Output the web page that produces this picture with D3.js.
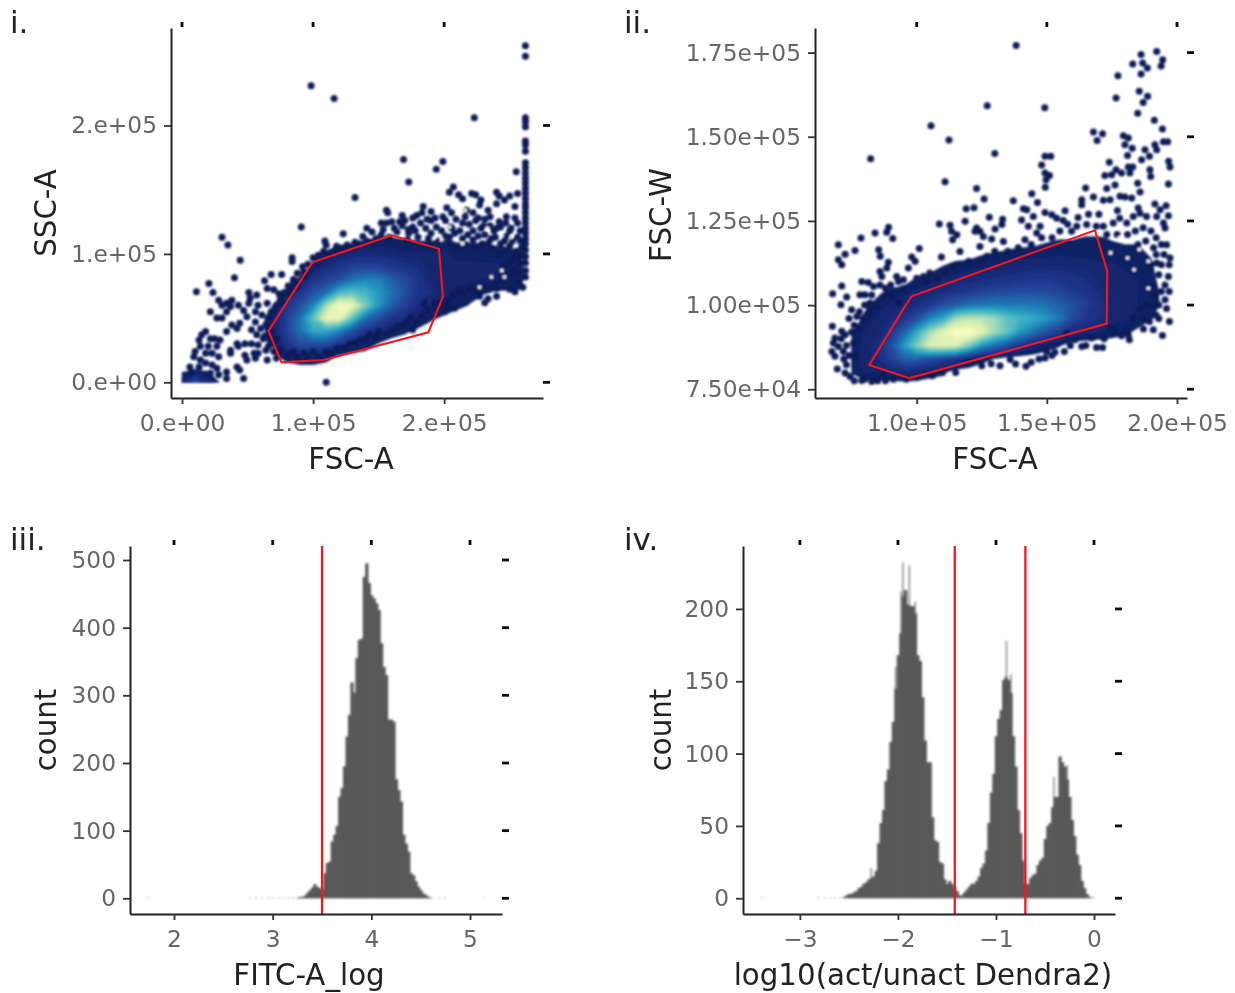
<!DOCTYPE html>
<html lang="en">

<head>
    <meta charset="UTF-8">
    <title>Flow cytometry gating panels</title>
    <script src="https://d3js.org/d3.v7.min.js"></script>
    <style>
        html, body {
            margin: 0;
            background: #fff;
        }

        svg {
            display: block;
        }

        text {
            font-family: "DejaVu Sans", sans-serif;
        }

        .tick text {
            font-size: 23.3px;
            fill: #666;
        }

        .axis-title {
            font-size: 29.3px;
            fill: #222;
        }

        .panel-label {
            font-size: 31px;
            fill: #222;
        }
    </style>
</head>

<body>
    <svg width="1235" height="993"></svg>

    <script>
        // panel i, values in thousands
        const scatter1 = [
            [262, 262], [262, 254], [262, 206], [262, 203], [262, 199], [262, 188], [262, 185], [262, 180], [262, 171], [262, 167],
            [262, 163], [262, 159], [262, 155], [262, 151], [262, 147], [262, 143], [262, 139], [262, 136], [262, 132], [262, 128],
            [262, 124], [262, 120], [262, 116], [262, 112], [262, 108], [262, 103], [262, 98], [262, 93], [262, 87], [262, 82],
            [98.5, 231], [116, 221], [223, 206], [169, 173.5], [199, 172], [194, 166], [255, 164], [173, 156], [132, 144], [91, 121],
            [30.5, 113], [35, 107], [44.4, 95], [40, 81.5], [20.5, 77], [11, 70.6], [23.6, 70], [110, 0], [47, 3], [123, 115.6],
            [141, 120], [109, 110], [110, 107], [108, 102], [117, 103], [84, 97], [84, 94], [68, 84], [76, 84], [63, 79],
            [85, 80], [93, 86], [204, 148], [207, 152], [211, 146], [214, 143], [221, 147], [224, 146], [228, 142], [227, 138],
            [240, 148], [242, 145], [246, 142], [250, 145], [256, 147], [240, 139], [254, 137], [184, 137], [190, 133], [202, 136],
            [156, 134], [157, 132], [168, 130], [179, 130], [183, 132], [190, 126], [199, 129], [205.6, 132], [217, 134], [222, 132],
            [233.5, 134], [226, 128], [247.5, 129], [242, 125], [235, 129], [256, 124], [152, 124], [156, 124], [176, 121], [172.6, 119],
            [164, 117], [153.5, 119], [145, 117], [138, 113.5], [132, 109], [126, 107], [202, 59], [208, 57.7], [227, 67], [231, 62],
            [233.5, 65], [240, 67], [250, 72.5], [254, 70.6], [260, 74], [240, 73], [227, 69], [214, 69], [193, 61.5], [194, 57.7],
            [200.5, 55], [176, 41], [179, 47], [171, 47], [164, 43], [156, 38], [150, 39.5], [143, 37], [136, 33], [128, 30],
            [118, 26.5], [110, 24], [100, 24], [93, 22.6], [85, 24], [80, 20], [18, 39.5], [15, 37], [13, 33], [10, 24],
            [9, 20], [6, 12], [7.6, 8], [21.6, 34], [25, 34], [29, 33], [20, 28], [23, 22.6], [18, 22.6], [26.6, 28],
            [28, 20], [14, 28], [14, 17.4], [18, 15], [23, 13.5], [26.6, 11], [28, 6], [34, 8], [34, 3], [13, 12],
            [21.6, 7], [21.6, 55], [28, 64], [30.5, 60], [34, 61.5], [38, 64], [26.6, 50], [30.5, 50], [34, 55], [37, 59],
            [43, 60], [47, 56], [51, 70], [52, 65.5], [57, 68], [65, 73], [70, 72], [74, 69], [51, 61.5], [56, 55],
            [58, 60], [49.5, 51], [42, 42], [38, 44.7], [34, 39.5], [44, 46], [56, 47], [61, 52.5], [65, 61.5], [70, 56],
            [77, 61.5], [82.5, 69], [87.5, 74.5], [93, 82], [48, 30], [42, 30], [37, 25], [37, 22.6], [43, 28], [53, 30],
            [58, 29], [55, 22.6], [48, 21], [42, 12], [44, 9.6], [49.5, 17.4], [56, 18.7], [65, 17.4], [64, 25], [58, 22.6],
            [70, 24], [72, 18.7], [67, 33], [62, 34], [258, 118], [258, 110], [255, 102], [258, 92], [254, 84], [257, 78],
            [250, 118], [246, 110], [252, 96], [245, 90], [240, 120], [236, 112], [230, 122], [222, 118], [214, 124], [206, 120],
            [201, 126], [205, 121], [209, 127], [212, 118], [216, 129], [219, 123], [224, 126], [228, 120], [231, 127], [235, 122],
            [238, 118], [243, 121], [247, 124], [251, 120], [254, 128], [204, 113], [208, 116], [214, 112], [218, 115], [222, 111],
            [226, 114], [231, 115], [234, 109], [239, 113], [243, 108], [248, 114], [252, 110], [256, 113], [259, 105], [205, 108],
            [211, 106], [217, 107], [224, 105], [229, 108], [237, 104], [242, 100], [246, 103], [250, 106], [255, 98], [258, 100],
            [249, 92], [253, 88], [257, 85], [247, 83], [244, 79], [238, 77], [233, 72], [229, 74], [224, 72], [219, 73],
            [212, 71], [207, 68], [203, 64], [198, 62], [187, 57], [183, 52], [185, 62], [148, 112], [152, 115], [158, 113],
            [162, 120], [168, 122], [173, 116], [178, 118], [182, 124], [186, 120], [190, 116], [194, 121], [198, 118], [201, 114],
            [170, 126], [176, 128], [166, 125], [160, 125], [187, 127], [193, 128], [180, 113], [188, 112], [196, 110], [172, 111],
            [100, 97], [104, 99], [112, 100], [118, 106], [122, 103], [128, 105], [135, 108], [141, 110], [96, 92], [92, 90],
            [88, 85], [85, 78], [81, 75], [78, 70], [75, 65], [72, 60], [68, 55], [66, 50], [64, 45], [82, 22],
            [88, 20], [96, 20], [104, 20], [114, 23], [124, 27], [132, 31], [140, 34], [148, 36], [160, 40], [168, 44],
            [174, 50], [70, 30], [75, 25], [72, 34], [68, 40], [66, 28], [63, 36], [60, 42], [57, 37], [53, 41]
        ];
        const gaps1 = [[216, 134], [204, 121], [214, 108], [251, 113], [244, 87], [236, 82], [246, 82], [227, 74], [233, 120], [198, 111]];
        const gate1 = [[66, 40], [76, 15.6], [108, 17.4], [188, 39], [198, 64], [199, 67], [196, 104], [160, 114.5], [99.5, 93.5], [91, 80]];
        // density, rows y = 0, 10, ... columns x = 0, 10, ... 260
        const densityX1 = d3.range(0, 261, 10);
        const densityY1 = d3.range(0, 131, 10);
        const density1 = [
            [1, 3, 1.4, .3, 0, 0, 0, 0, 0, 0, 0, 0, 0, 0, 0, 0, 0, 0, 0, 0, 0, 0, 0, 0, 0, 0, 0],
            [.3, .45, .3, 0, 0, 0, 0, 0, 0, 0, 0, 0, 0, 0, 0, 0, 0, 0, 0, 0, 0, 0, 0, 0, 0, 0, 0],
            [0, 0, 0, 0, 0, 0, 0, .3, .8, 1.2, 1.2, .8, .3, 0, 0, 0, 0, 0, 0, 0, 0, 0, 0, 0, 0, 0, 0],
            [0, 0, 0, 0, 0, 0, 0, .5, 2, 3, 3, 3, 2, 1.5, 1, .4, 0, 0, 0, 0, 0, 0, 0, 0, 0, 0, 0],
            [0, 0, 0, 0, 0, 0, .2, 1, 2.5, 4, 5.5, 5.5, 4.5, 3, 2, 1.5, 1, .6, .3, 0, 0, 0, 0, 0, 0, 0, 0],
            [0, 0, 0, 0, 0, 0, .2, 1, 2.5, 4, 6.5, 9, 9, 6.5, 4, 3, 2, 1.5, 1, .6, .3, 0, 0, 0, 0, 0, 0],
            [0, 0, 0, 0, 0, 0, 0, .5, 2, 3, 4.5, 7.5, 9.5, 9, 7, 5, 3.5, 2.5, 1.5, 1, 1, .7, .4, .2, 0, 0, 0],
            [0, 0, 0, 0, 0, 0, 0, 0, .6, 2, 3, 4, 6, 6.5, 6, 5, 4, 3, 2, 1.5, 1, .8, .7, .5, .4, .4, .4],
            [0, 0, 0, 0, 0, 0, 0, 0, .2, .6, 2, 2.5, 3, 4, 4.5, 4.5, 3.5, 2.8, 2, 1.2, 1, 1, 1, .9, .8, .7, .6],
            [0, 0, 0, 0, 0, 0, 0, 0, 0, 0, .6, 1.5, 2, 2.5, 2.5, 2.5, 2.2, 1.8, 1.5, 1, 1, 1, 1, 1, 1, .8, .6],
            [0, 0, 0, 0, 0, 0, 0, 0, 0, 0, .2, .6, 1, 1.2, 1.4, 1.4, 1.2, 1, 1, 1, 1, .8, .8, .7, .7, .6, .4],
            [0, 0, 0, 0, 0, 0, 0, 0, 0, 0, 0, 0, .2, .3, .5, .6, .6, .5, .45, .45, .5, .4, .4, .4, .3, .3, .3],
            [0, 0, 0, 0, 0, 0, 0, 0, 0, 0, 0, 0, 0, 0, 0, 0, .1, .1, .2, .2, .2, .2, .2, .2, .2, .2, .2],
            [0, 0, 0, 0, 0, 0, 0, 0, 0, 0, 0, 0, 0, 0, 0, 0, 0, 0, 0, 0, 0, 0, 0, 0, 0, 0, 0]
        ];

        // panel ii, values in thousands
        const scatter2 = [
            [138.2, 177.1], [192.2, 175.3], [186.2, 174.4], [194.5, 172.9], [193.9, 171], [183, 171.6], [186.8, 171.9], [188.6, 170.4], [186.2, 168.6], [177.3, 168.1],
            [185.5, 163.5], [188.7, 162], [187, 160.2], [176.6, 161.5], [127.1, 159.2], [149.2, 158.6], [184.9, 157], [191.3, 154.9], [194.4, 152.3], [105.5, 153.3],
            [112.4, 149], [167.9, 151.4], [171.4, 150.9], [169.3, 148.9], [179.4, 150.3], [181.3, 149.6], [180, 147.6], [182.8, 146.6], [187.7, 146.1], [191.5, 147.6],
            [194.8, 148.5], [196.4, 148.5], [192.2, 146.1], [181, 144.4], [186.4, 143.2], [189.4, 144.2], [130, 145], [82.3, 143.5], [149.3, 144.2], [151.5, 144.2],
            [148, 141.6], [174, 142.4], [196.8, 142.7], [197.3, 141], [181.3, 141], [183, 141], [181.9, 139.2], [176.6, 140.2], [178.7, 139.2], [172.3, 138.5],
            [174.9, 138.7], [189.6, 140.2], [189.9, 138.2], [149.3, 139.2], [151, 138.5], [149.7, 137.2], [149.4, 135], [110.9, 136.6], [176.2, 135.7], [173, 134.6],
            [184.9, 136.2], [196.7, 136], [185.8, 133.6], [123, 134.6], [144.2, 133.1], [164.9, 134.8], [125.9, 131.5], [137.1, 131], [146.4, 130.5], [167.9, 132.1],
            [163.4, 131.3], [163.4, 129.8], [171.7, 131.1], [174.3, 131.3], [178.1, 132.3], [180, 132.1], [182.6, 131.8], [119, 128.6], [122, 128.9], [141, 128.6],
            [142.3, 128.3], [157, 128], [149.3, 127.5], [151.9, 126.8], [177.1, 128.1], [185.1, 128.8], [191.5, 130], [195.8, 129.5], [196.7, 126.5], [127.9, 126.1],
            [140.3, 125.3], [144.8, 126.3], [153.8, 125.8], [156.3, 125.1], [133, 125.5], [118.6, 124.9], [108.7, 124.1], [112.8, 123.7], [89.2, 123.1], [84, 121.4],
            [88.5, 121.6], [78.6, 119.9], [90.8, 119.8], [113.4, 121.9], [115.4, 120.9], [113.8, 119.4], [123, 122.9], [124.3, 121.9], [122.4, 121.9], [130.1, 122.6],
            [132.7, 123.9], [125.6, 120.4], [128.8, 119.6], [133.3, 118.9], [141.6, 119.4], [146.1, 121.4], [147.4, 123.4], [142.9, 123.4], [69.9, 117.9], [76.3, 116.2],
            [72.5, 115.1], [85.4, 116.4], [86, 114.5], [101, 116.8], [98.1, 114.3], [99.4, 113], [96.8, 111], [89.1, 112.7], [88.5, 111], [85.9, 110],
            [69.9, 113.5], [71.2, 112], [109.5, 114.3], [116.6, 115.9], [124.3, 117.4], [127, 114.5], [113.4, 111.5], [105, 109.5], [102.6, 108.5], [92.3, 108.5],
            [94.9, 107.5], [86.6, 108.5], [78.9, 107], [81.4, 106.7], [71.2, 105.7], [67.7, 103.4], [78.2, 103.1], [80.1, 103.1], [73.1, 102.4], [70.9, 100.1],
            [75, 98.6], [67.6, 93.7], [83.4, 105.5], [85.9, 106], [82.7, 103], [87.2, 102.6], [90.4, 103.1], [93, 100.6], [82.1, 100.6], [84.6, 99.6],
            [77, 96.6], [79.5, 96.1], [82, 97.6], [71.2, 92.2], [68.6, 90.2], [72.5, 91.2], [68, 88.7], [67.4, 86.2], [69.9, 87.7], [68.6, 84.8],
            [71.8, 86.2], [69.5, 81], [73, 82.3], [74.4, 78.8], [72.5, 79.8], [78.9, 77.6], [82.7, 77.3], [91, 78], [87.2, 79.3], [76.3, 84.8],
            [75.7, 88.7], [77.6, 92.7], [103.5, 79.3], [128.6, 82.6], [142, 81.8], [135.9, 83.8], [149.3, 84.3], [153.1, 86], [156.7, 86.2], [149.9, 86.2],
            [169.1, 87.4], [171.4, 87.4], [163.4, 87.7], [160.8, 89.7], [167.2, 90.2], [157.6, 91.7], [174.3, 93.2], [180, 92.2], [181.7, 89.7], [181.3, 91.2],
            [178.7, 90.9], [187.1, 92.9], [190.9, 92.7], [194.4, 91], [197.1, 95.1], [189.4, 95.1], [183.2, 96.1], [185.8, 98.6], [190.9, 99.6], [195.4, 101.6],
            [195.4, 106], [197.3, 114], [196, 117.9], [195.4, 122.9], [193.5, 128.3], [196.7, 108.5], [192.2, 112.5], [175.5, 124.4], [180.7, 124.4], [185.8, 127.3],
            [188.3, 126.3], [192.2, 126.3], [183.2, 126.3], [171.7, 123.4], [169, 123.4], [165.3, 123.9], [161.5, 123.4], [159.5, 121.9], [178, 125.8], [194.8, 124.4],
            [192, 120], [190, 122], [187, 123], [184, 122], [181, 121], [177, 121], [173, 121], [194, 118], [191, 117], [188, 119],
            [185, 118], [195, 115], [192, 115], [194, 112], [197, 112], [190, 112], [193, 109], [191, 106], [194, 104], [197, 104],
            [191, 103], [193, 100], [196, 99], [192, 97], [187, 96], [193, 96], [188, 100], [176, 92], [172, 90], [165, 88],
            [159, 88], [152, 85], [147, 84], [144, 83], [138, 82.5], [132, 82], [125, 82], [120, 83], [115, 80], [110, 80],
            [106, 79], [100, 78.5], [96, 78], [88, 77.5], [85, 77.5], [80, 78], [76, 77.5], [95, 105], [93, 107], [90, 106],
            [88, 105], [82, 99], [80, 100], [78, 98], [76, 94], [75, 92], [74, 96], [73, 88], [74, 85], [72, 84],
            [71, 90], [100, 108], [104, 107], [108, 108], [111, 110], [115, 112], [120, 113], [125, 113], [130, 116], [135, 116],
            [139, 117], [144, 118], [148, 120], [152, 120], [155, 122], [158, 124], [162, 126], [166, 127], [170, 127]
        ];
        const gaps2 = [[185.5, 116.5], [189, 113], [181, 114], [178, 120], [174.5, 115.5], [183.5, 110.5], [189, 105]];
        const gate2 = [[81.8, 82.2], [97.2, 78.3], [173, 94.5], [173.2, 110], [168.5, 122.2], [98, 102.6], [95.5, 99.6]];
        // rows y = 76, 80, ... columns x = 75, 80, ... 200
        const densityX2 = d3.range(75, 201, 5);
        const densityY2 = d3.range(76, 125, 4);
        const density2 = [
            [0, 0, 0, 0, 0, 0, 0, 0, 0, 0, 0, 0, 0, 0, 0, 0, 0, 0, 0, 0, 0, 0, 0, 0, 0, 0],
            [.5, 1, 1, 1.2, 1.3, 1.2, .8, .6, 0, 0, 0, 0, 0, 0, 0, 0, 0, 0, 0, 0, 0, 0, 0, 0, 0, 0],
            [.8, 1, 1.5, 2.5, 3.5, 3.5, 3, 2.5, 2, 1.3, .7, .4, 0, 0, 0, 0, 0, 0, 0, 0, 0, 0, 0, 0, 0, 0],
            [.7, 1, 1.5, 3, 5, 7, 8.5, 8.8, 8.5, 7, 5, 4, 3, 2, 1.3, .8, .5, 0, 0, 0, 0, 0, 0, 0, 0, 0],
            [.4, 1, 1.2, 2, 3.5, 5.5, 7.5, 8.8, 9.7, 9.8, 9, 7.5, 6.5, 5, 4, 3, 2.2, 1.5, 1.2, 1, .8, .6, .3, 0, 0, 0],
            [0, .6, 1, 1.3, 2, 3, 4.5, 5.5, 7.5, 8, 8, 7.5, 6.5, 6, 5.5, 5, 4.2, 2.8, 2, 1.6, 1, 1, .8, .5, .2, 0],
            [0, .3, .7, 1, 1.2, 1.6, 2.2, 3, 3.5, 4, 4.2, 4.3, 4.3, 4.3, 4.2, 4, 3.5, 3, 2.4, 1.8, 1.2, 1, .9, .7, .3, 0],
            [0, 0, .3, .6, .8, 1, 1.2, 1.5, 1.9, 2.2, 2.5, 2.7, 2.8, 2.9, 2.9, 2.8, 2.6, 2.2, 1.9, 1.5, 1, 1, .9, .7, .3, 0],
            [0, 0, 0, 0, 0, .5, .7, .9, 1.1, 1.2, 1.4, 1.6, 1.7, 1.9, 2, 2, 1.9, 1.7, 1.5, 1.2, 1, 1, .9, .6, .2, 0],
            [0, 0, 0, 0, 0, 0, 0, .4, .6, .7, .8, .9, 1, 1.1, 1.2, 1.2, 1.2, 1.2, 1.1, 1, 1, .8, .7, .5, .2, 0],
            [0, 0, 0, 0, 0, 0, 0, 0, 0, 0, .3, .4, .5, .6, .7, .7, .8, .7, .7, .6, .6, .5, .5, .4, .1, 0],
            [0, 0, 0, 0, 0, 0, 0, 0, 0, 0, 0, 0, 0, 0, 0, .3, .4, .4, .5, .5, .4, .4, .4, .3, 0, 0],
            [0, 0, 0, 0, 0, 0, 0, 0, 0, 0, 0, 0, 0, 0, 0, 0, 0, 0, 0, 0, 0, 0, 0, 0, 0, 0]
        ];

        // panel iii histogram
        const binStart3 = 3.25;
        const binWidth = 0.025;
        const counts3 = [1, 2, 2, 4, 8, 12, 16, 21, 17, 15, 13, 37, 52, 54, 84, 94, 107, 150, 163, 195, 239, 271, 319, 304, 355, 382, 384, 475, 495, 466,
            448, 443, 436, 426, 377, 342, 330, 264, 264, 261, 176, 160, 143, 94, 81, 69, 37, 34, 25, 17, 12, 7, 5, 2, 1];
        const strays3 = [1.72, 2.76, 2.82, 2.88, 2.95, 3.0, 3.05, 3.1, 3.15, 3.2, 4.68, 4.73, 5.13];
        const lines3 = [3.5];

        // panel iv histogram
        const binStart4 = -2.55;
        const counts4 = [1, 2, 3, 3, 4, 5, 7, 8, 10, 11, 13, 14, 15, 19, 38, 52, 61, 81, 89, 108, 122, 145, 168, 183, 209, 213, 203, 202, 202, 197,
            168, 164, 139, 109, 94, 94, 56, 40, 39, 25, 24, 13, 10, 12, 10, 8, 5, 2, 2, 4, 6, 8, 10, 10, 12, 15, 21, 24, 33, 52,
            73, 86, 112, 124, 130, 151, 153, 151, 142, 112, 91, 61, 45, 26, 10, 10, 14, 16, 17, 23, 26, 28, 41, 50, 52, 63, 70, 70, 98, 94,
            91, 82, 70, 54, 43, 30, 23, 12, 7, 3, 1];
        const spikes4 = [[-1.955, 232], [-1.89, 230], [-1.975, 212], [-1.83, 205], [-2.03, 160], [-0.9, 178], [-0.855, 155], [-0.415, 84], [-0.28, 92], [-2.28, 21]];
        const strays4 = [-3.4, -2.82, -2.75, -2.7, -2.65, -2.6, -0.03, -0.01];
        const lines4 = [-1.42, -0.7];

        const svg = d3.select("svg");

        // filter region in page units, a lone vertical line has an empty bounding box
        const defs = svg.append("defs");
        defs.append("filter").attr("id", "soft")
            .attr("filterUnits", "userSpaceOnUse")
            .attr("x", 0).attr("y", 0).attr("width", 1235).attr("height", 993)
            .append("feGaussianBlur").attr("stdDeviation", 0.8);
        defs.append("filter").attr("id", "softText")
            .attr("filterUnits", "userSpaceOnUse")
            .attr("x", 0).attr("y", 0).attr("width", 1235).attr("height", 993)
            .append("feGaussianBlur").attr("stdDeviation", 0.45);

        function makePanel(opts) {
            const x = d3.scaleLinear().domain(opts.xDomain).range(opts.xRange);
            const y = d3.scaleLinear().domain(opts.yDomain).range(opts.yRange);
            const g = svg.append("g");
            const marks = g.append("g").attr("filter", "url(#soft)");
            // gates and thresholds stay a bit sharper than the points below them
            const overlay = g.append("g").attr("filter", "url(#softText)");

            const bottom = opts.yRange[0], top = opts.yRange[1];
            const left = opts.xRange[0], right = opts.xRange[1];

            const axisG = g.append("g").attr("filter", "url(#softText)");
            axisG.append("g")
                .attr("transform", `translate(0,${bottom})`)
                .call(d3.axisBottom(x).tickValues(opts.xTicks).tickFormat((d, i) => opts.xLabels[i]).tickSize(6).tickSizeOuter(0).tickPadding(10));
            axisG.append("g")
                .attr("transform", `translate(${left},0)`)
                .call(d3.axisLeft(y).tickValues(opts.yTicks).tickFormat((d, i) => opts.yLabels[i]).tickSize(7).tickSizeOuter(0).tickPadding(7));
            axisG.selectAll(".domain").attr("stroke", "#222").attr("stroke-width", 2);
            axisG.selectAll(".tick line").attr("stroke", "#333").attr("stroke-width", 1.8);

            // stray tick marks along the top and right edge
            const markStyle = s => s.attr("stroke", "#111").attr("stroke-width", 2.8);
            axisG.append("g").selectAll("line").data(opts.xTicks).enter().append("line")
                .attr("x1", d => x(d)).attr("x2", d => x(d))
                .attr("y1", top - 6).attr("y2", top - 1)
                .call(markStyle);
            axisG.append("g").selectAll("line").data(opts.yTicks).enter().append("line")
                .attr("x1", right).attr("x2", right + 7)
                .attr("y1", d => y(d)).attr("y2", d => y(d))
                .call(markStyle);

            axisG.append("text").attr("class", "axis-title")
                .attr("x", opts.xTitleX).attr("y", bottom + 71)
                .attr("text-anchor", "middle").text(opts.xTitle);
            axisG.append("text").attr("class", "axis-title")
                .attr("transform", `translate(${opts.yTitleX},${opts.yTitleY}) rotate(-90)`)
                .attr("text-anchor", "middle").text(opts.yTitle);
            axisG.append("text").attr("class", "panel-label")
                .attr("x", opts.labelX).attr("y", opts.labelY).text(opts.label);

            return { x, y, marks, overlay };
        }

        function drawDensity(panel, xs, ys, grid) {
            const n = xs.length, m = ys.length;
            const levels = d3.range(0.45, 10, 0.15);
            const contours = d3.contours().size([n, m]).thresholds(levels)(grid.flat());
            const dx = xs[1] - xs[0], dy = ys[1] - ys[0];
            const colour = v => d3.interpolateYlGnBu(1 - Math.pow(v / 10, 1.3));
            const path = d3.geoPath(d3.geoTransform({
                point(px, py) {
                    const gx = Math.min(xs[n - 1], Math.max(xs[0], xs[0] + (px - 0.5) * dx));
                    const gy = Math.min(ys[m - 1], Math.max(ys[0], ys[0] + (py - 0.5) * dy));
                    this.stream.point(panel.x(gx), panel.y(gy));
                }
            }));
            panel.marks.append("g").selectAll("path").data(contours).enter().append("path")
                .attr("d", path)
                .attr("fill", d => colour(d.value))
                .attr("stroke", d => colour(d.value))
                .attr("stroke-width", 0.3);
        }

        function drawPoints(panel, pts, gaps) {
            panel.marks.append("g").selectAll("circle").data(pts).enter().append("circle")
                .attr("cx", d => panel.x(d[0]))
                .attr("cy", d => panel.y(d[1]))
                .attr("r", 3.5)
                .attr("fill", "#0b1c58");
            // white specks left open in the navy mass
            panel.marks.append("g").selectAll("circle").data(gaps).enter().append("circle")
                .attr("cx", d => panel.x(d[0]))
                .attr("cy", d => panel.y(d[1]))
                .attr("r", 1.8)
                .attr("fill", "#fff");
        }

        function drawGate(panel, gate) {
            const line = d3.line().x(d => panel.x(d[0])).y(d => panel.y(d[1])).curve(d3.curveLinearClosed);
            panel.overlay.append("path").attr("d", line(gate))
                .attr("fill", "none").attr("stroke", "#f8141f").attr("stroke-width", 2.1);
        }

        function drawHist(panel, start, counts, spikes, strays, vlines) {
            const h = panel.marks.append("g");
            h.selectAll("rect.stray").data(strays).enter().append("rect")
                .attr("x", d => panel.x(d)).attr("width", 2)
                .attr("y", panel.y(0) - 1).attr("height", 1)
                .attr("fill", "#aaa");
            h.selectAll("rect.spike").data(spikes).enter().append("rect")
                .attr("x", d => panel.x(d[0])).attr("width", 1.3)
                .attr("y", d => panel.y(d[1])).attr("height", d => panel.y(0) - panel.y(d[1]))
                .attr("fill", "#777");
            h.selectAll("rect.bar").data(counts).enter().append("rect")
                .attr("x", (d, i) => panel.x(start + (i - 0.5) * binWidth))
                .attr("width", panel.x(binWidth) - panel.x(0) + 0.8)
                .attr("y", d => panel.y(d))
                .attr("height", d => panel.y(0) - panel.y(d))
                .attr("fill", "#595959");
            panel.overlay.selectAll("line").data(vlines).enter().append("line")
                .attr("x1", d => panel.x(d)).attr("x2", d => panel.x(d))
                .attr("y1", panel.y.range()[1]).attr("y2", panel.y.range()[0])
                .attr("stroke", "#f8141f").attr("stroke-width", 2.3);
        }

        const p1 = makePanel({
            xDomain: [-8.4, 275.4], xRange: [171, 543], yDomain: [-12.2, 275.9], yRange: [398, 28],
            xTicks: [0, 100, 200], xLabels: ["0.e+00", "1.e+05", "2.e+05"],
            yTicks: [0, 100, 200], yLabels: ["0.e+00", "1.e+05", "2.e+05"],
            xTitle: "FSC-A", xTitleX: 351, yTitle: "SSC-A", yTitleX: 56, yTitleY: 213,
            label: "i.", labelX: 10, labelY: 33
        });
        drawDensity(p1, densityX1, densityY1, density1);
        drawPoints(p1, scatter1, gaps1);
        drawGate(p1, gate1);

        const p2 = makePanel({
            xDomain: [60.93, 203.84], xRange: [815, 1187], yDomain: [72.4, 182.3], yRange: [398, 28],
            xTicks: [100, 150, 200], xLabels: ["1.0e+05", "1.5e+05", "2.0e+05"],
            yTicks: [75, 100, 125, 150, 175], yLabels: ["7.50e+04", "1.00e+05", "1.25e+05", "1.50e+05", "1.75e+05"],
            xTitle: "FSC-A", xTitleX: 995, yTitle: "FSC-W", yTitleX: 671, yTitleY: 215,
            label: "ii.", labelX: 624, labelY: 33
        });
        drawDensity(p2, densityX2, densityY2, density2);
        drawPoints(p2, scatter2, gaps2);
        drawGate(p2, gate2);

        const p3 = makePanel({
            xDomain: [1.554, 5.324], xRange: [130, 502], yDomain: [-23.2, 520.7], yRange: [914, 546],
            xTicks: [2, 3, 4, 5], xLabels: ["2", "3", "4", "5"],
            yTicks: [0, 100, 200, 300, 400, 500], yLabels: ["0", "100", "200", "300", "400", "500"],
            xTitle: "FITC-A_log", xTitleX: 309, yTitle: "count", yTitleX: 56, yTitleY: 730,
            label: "iii.", labelX: 10, labelY: 550
        });
        drawHist(p3, binStart3, counts3, [], strays3, lines3);

        const p4 = makePanel({
            xDomain: [-3.58, 0.214], xRange: [743, 1115], yDomain: [-10.9, 243.5], yRange: [914, 546],
            xTicks: [-3, -2, -1, 0], xLabels: ["\u22123", "\u22122", "\u22121", "0"],
            yTicks: [0, 50, 100, 150, 200], yLabels: ["0", "50", "100", "150", "200"],
            xTitle: "log10(act/unact Dendra2)", xTitleX: 923, yTitle: "count", yTitleX: 671, yTitleY: 730,
            label: "iv.", labelX: 624, labelY: 550
        });
        drawHist(p4, binStart4, counts4, spikes4, strays4, lines4);
    </script>
</body>

</html>
